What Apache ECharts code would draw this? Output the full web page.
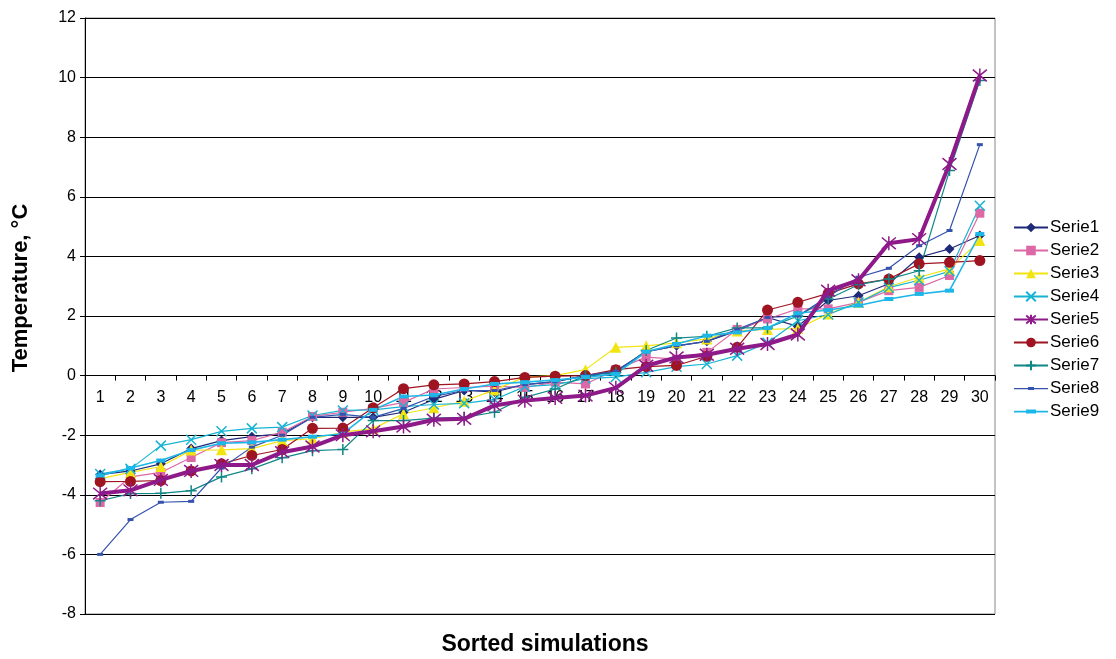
<!DOCTYPE html>
<html>
<head>
<meta charset="utf-8">
<script src="https://cdn.jsdelivr.net/npm/echarts@6/dist/echarts.min.js"></script>
<style>
  html, body { margin: 0; padding: 0; background: #fff; }
  #chart { width: 1116px; height: 659px; }
</style>
</head>
<body>
<div id="chart"></div>
<script>
// Sorted simulation index (x axis)
const categories = Array.from({ length: 30 }, (_, i) => String(i + 1));

// Temperature change per sorted simulation, °C
const serie1 = [-3.32, -3.2, -2.96, -2.45, -2.18, -2.05, -1.95, -1.4, -1.4, -1.4, -1.23, -0.8, -0.5, -0.55, -0.3, -0.2, 0.0, 0.15, 0.8, 1.0, 1.15, 1.5, 1.95, 1.65, 2.52, 2.68, 3.08, 3.97, 4.25, 4.7];
const serie2 = [-4.26, -3.4, -3.25, -2.75, -2.25, -2.18, -1.9, -1.37, -1.23, -1.1, -0.9, -0.45, -0.4, -0.35, -0.4, -0.22, -0.28, 0.2, 0.62, 0.55, 0.78, 1.55, 1.9, 2.24, 2.24, 2.46, 2.85, 2.96, 3.36, 5.45];
const serie3 = [-3.46, -3.25, -3.05, -2.5, -2.49, -2.45, -2.18, -2.12, -1.9, -1.78, -1.28, -1.08, -0.86, -0.48, -0.05, 0.0, 0.2, 0.95, 1.0, 1.1, 1.23, 1.5, 1.55, 1.58, 2.07, 2.46, 2.98, 3.3, 3.58, 4.53];
const serie4 = [-3.3, -3.13, -2.35, -2.15, -1.87, -1.77, -1.73, -1.34, -1.17, -1.15, -1.04, -0.97, -0.93, -0.8, -0.37, -0.3, -0.1, -0.05, 0.11, 0.3, 0.39, 0.67, 1.1, 1.84, 2.05, 2.45, 2.95, 3.2, 3.5, 5.7];
const serie5 = [-3.96, -3.85, -3.5, -3.2, -3.0, -3.0, -2.57, -2.38, -2.0, -1.87, -1.71, -1.48, -1.45, -1.0, -0.84, -0.75, -0.67, -0.41, 0.33, 0.61, 0.7, 0.9, 1.06, 1.38, 2.85, 3.2, 4.44, 4.58, 7.1, 10.07];
const serie6 = [-3.56, -3.55, -3.52, -3.2, -2.96, -2.68, -2.48, -1.77, -1.76, -1.08, -0.44, -0.31, -0.28, -0.2, -0.06, -0.02, 0.0, 0.2, 0.3, 0.34, 0.65, 0.95, 2.2, 2.46, 2.76, 3.08, 3.24, 3.75, 3.8, 3.86];
const serie7 = [-4.2, -3.96, -3.95, -3.86, -3.4, -3.13, -2.76, -2.52, -2.48, -1.51, -1.51, -1.43, -1.4, -1.23, -0.73, -0.45, 0.0, 0.1, 0.84, 1.26, 1.32, 1.6, 1.6, 2.0, 2.57, 3.05, 3.24, 3.52, 6.88, 9.9];
const serie8 = [-6.0, -4.83, -4.25, -4.22, -3.1, -2.4, -2.0, -1.4, -1.3, -1.4, -1.1, -0.7, -0.5, -0.5, -0.3, -0.2, 0.0, 0.15, 0.8, 1.0, 1.15, 1.55, 1.95, 2.0, 2.65, 3.3, 3.6, 4.36, 4.87, 7.75];
const serie9 = [-3.35, -3.1, -2.85, -2.5, -2.27, -2.24, -2.15, -2.05, -1.95, -1.15, -0.7, -0.65, -0.45, -0.28, -0.22, -0.15, -0.05, 0.05, 0.8, 1.06, 1.34, 1.45, 1.6, 2.09, 2.2, 2.35, 2.57, 2.74, 2.85, 4.75];

const seriesNames = ['Serie1', 'Serie2', 'Serie3', 'Serie4', 'Serie5', 'Serie6', 'Serie7', 'Serie8', 'Serie9'];
const seriesValues = [serie1, serie2, serie3, serie4, serie5, serie6, serie7, serie8, serie9];

// Y axis range
const Y_MIN = -8;
const Y_MAX = 12;
const Y_STEP = 2;

const FONT = 'Liberation Sans, Arial, sans-serif';

// Plot area in pixels
const GRID = { left: 85, right: 121, top: 18, bottom: 45 };
const CHART_H = 659;
const plotH = CHART_H - GRID.top - GRID.bottom;
// Lift the category axis from the bottom edge up to the zero line
const zeroOffset = -plotH * (0 - Y_MIN) / (Y_MAX - Y_MIN);

// Stroked marker shapes
const X_MARK = 'path://M0,0L10,10M10,0L0,10';
const PLUS_MARK = 'path://M5,0L5,10M0,5L10,5';
const STAR_MARK = 'path://M0,0L10,10M10,0L0,10M5,-1L5,11';

// Legend icons: line with a small dash marker
const DASH_ICON_SMALL = 'path://M0,0L34,0L34,0Z M0,12L34,12L34,12Z M0,5.5h34v1.2h-34z M14,4.5h6v3h-6z';
const DASH_ICON = 'path://M0,0L34,0L34,0Z M0,12L34,12L34,12Z M0,5.3h34v1.6h-34z M12,4h10v4h-10z';

const styles = [
  { color: '#1f2a78', symbol: 'diamond', size: 10, width: 1.2 },
  { color: '#dc68a6', symbol: 'rect', size: 9, width: 1.2 },
  { color: '#f2e411', symbol: 'triangle', size: 11, width: 1.2 },
  { color: '#16b4d2', symbol: X_MARK, size: 10, width: 1.2, stroke: true },
  { color: '#8e1a8a', symbol: STAR_MARK, size: 14, width: 4, stroke: true },
  { color: '#9e1420', symbol: 'circle', size: 11, width: 1.2 },
  { color: '#0f8886', symbol: PLUS_MARK, size: 11, width: 1.2, stroke: true },
  { color: '#3553ad', symbol: 'rect', size: [6, 3], width: 1.2, icon: DASH_ICON_SMALL },
  { color: '#1db6e8', symbol: 'rect', size: [9, 4], width: 1.6, icon: DASH_ICON }
];

const series = seriesNames.map((name, i) => {
  const s = styles[i];
  return {
    name,
    type: 'line',
    data: seriesValues[i],
    symbol: s.symbol,
    symbolSize: s.size,
    showAllSymbol: true,
    lineStyle: { color: s.color, width: s.width },
    itemStyle: s.stroke
      ? { color: 'rgba(0,0,0,0)', borderColor: s.color, borderWidth: 1.5 }
      : { color: s.color, borderWidth: 0 },
    emphasis: { disabled: true },
    animation: false,
    z: i === 4 ? 3 : 2
  };
});

const legendData = seriesNames.map((name, i) =>
  styles[i].icon ? { name, icon: styles[i].icon, itemStyle: { color: styles[i].color } } : { name }
);

const chart = echarts.init(document.getElementById('chart'), null, { renderer: 'canvas' });
chart.setOption({
  backgroundColor: '#ffffff',
  animation: false,
  textStyle: { fontFamily: FONT },
  grid: { left: GRID.left, right: GRID.right, top: GRID.top, bottom: GRID.bottom, show: true, borderColor: '#888', borderWidth: 1 },
  xAxis: {
    type: 'category',
    data: categories,
    boundaryGap: true,
    position: 'bottom',
    offset: zeroOffset,
    axisLine: { onZero: false, lineStyle: { color: '#000', width: 1 } },
    axisTick: { show: true, length: 5, lineStyle: { color: '#000' } },
    axisLabel: { color: '#000', fontSize: 16, fontFamily: FONT, margin: 14, interval: 0 },
    splitLine: { show: false }
  },
  yAxis: {
    type: 'value',
    min: Y_MIN,
    max: Y_MAX,
    interval: Y_STEP,
    axisLine: { show: true, lineStyle: { color: '#000', width: 1 } },
    axisTick: { show: true, length: 5, lineStyle: { color: '#000' } },
    axisLabel: { color: '#000', fontSize: 16, fontFamily: FONT, margin: 9 },
    splitLine: { show: true, lineStyle: { color: '#000', width: 1 } }
  },
  legend: {
    orient: 'vertical',
    left: 1008,
    top: 214,
    itemWidth: 34,
    itemHeight: 12,
    itemGap: 6,
    textStyle: { color: '#000', fontSize: 17, fontFamily: FONT, padding: [0, 0, 0, -3] },
    data: legendData
  },
  graphic: [
    {
      type: 'text',
      rotation: Math.PI / 2,
      x: 21, y: 288,
      style: {
        text: 'Temperature, °C',
        font: 'bold 22px ' + FONT,
        fill: '#000',
        textAlign: 'center',
        textVerticalAlign: 'middle'
      }
    },
    {
      type: 'text',
      x: 545, y: 645,
      style: {
        text: 'Sorted simulations',
        font: 'bold 23px ' + FONT,
        fill: '#000',
        textAlign: 'center',
        textVerticalAlign: 'middle'
      }
    }
  ],
  series
});
</script>
</body>
</html>
